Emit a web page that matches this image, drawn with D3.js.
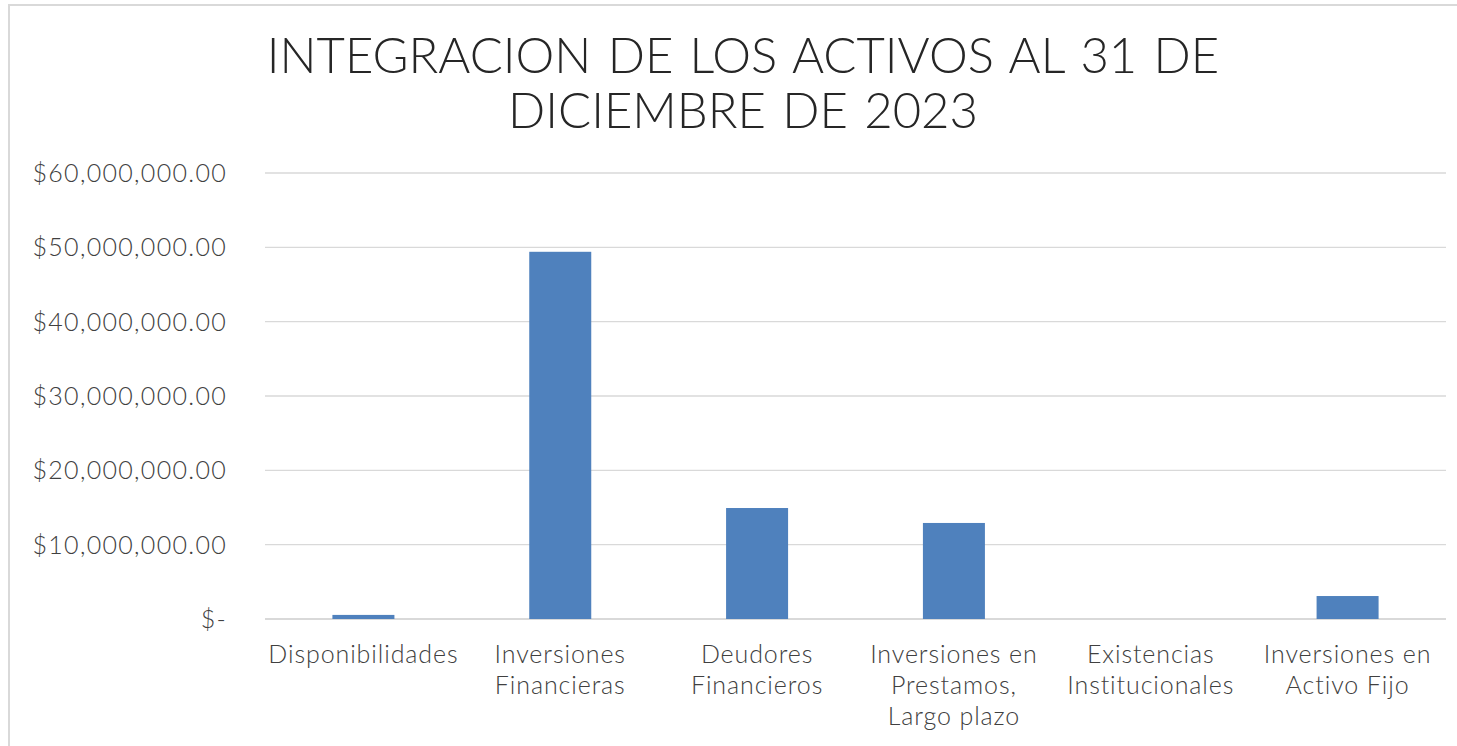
<!DOCTYPE html>
<html>
<head>
<meta charset="utf-8">
<script src="https://cdn.jsdelivr.net/npm/d3@7"></script>
<style>
  html, body { margin: 0; padding: 0; background: #fff; }
  svg { display: block; font-family: "Lato", "Open Sans", sans-serif; }
</style>
</head>
<body>
<div id="chart"></div>
<script>
// chart data
const categories = [
  ["Disponibilidades"],
  ["Inversiones", "Financieras"],
  ["Deudores", "Financieros"],
  ["Inversiones en", "Prestamos,", "Largo plazo"],
  ["Existencias", "Institucionales"],
  ["Inversiones en", "Activo Fijo"]
];
const values = [550000, 49400000, 14930000, 12920000, 0, 3090000];
const yTicks = [0, 10000000, 20000000, 30000000, 40000000, 50000000, 60000000];
const titleLines = ["INTEGRACION DE LOS ACTIVOS AL 31 DE", "DICIEMBRE DE 2023"];

const width = 1457, height = 746;
const plot = { left: 265, right: 1446, top: 173, bottom: 619 };

const svg = d3.select("#chart")
  .append("svg")
  .attr("width", width)
  .attr("height", height);

// outer frame (only top & left visible in the picture)
svg.append("line").attr("x1", 8).attr("x2", width).attr("y1", 5).attr("y2", 5)
  .style("stroke", "#d9d9d9").style("stroke-width", 2);
svg.append("line").attr("x1", 9).attr("x2", 9).attr("y1", 4).attr("y2", height)
  .style("stroke", "#d9d9d9").style("stroke-width", 2);

const keys = categories.map((d) => d.join(" "));

const x = d3.scaleBand()
  .domain(keys)
  .range([plot.left, plot.right])
  .paddingInner(0.685)
  .paddingOuter(0.3425);

const y = d3.scaleLinear()
  .domain([0, 60000000])
  .range([plot.bottom, plot.top]);

// gridlines
svg.append("g")
  .selectAll("line")
  .data(yTicks)
  .enter()
  .append("line")
  .attr("x1", plot.left)
  .attr("x2", plot.right)
  .attr("y1", (d) => y(d))
  .attr("y2", (d) => y(d))
  .style("stroke", "#d9d9d9")
  .style("stroke-width", (d) => (d === 0 ? 2 : 1.3));

// y labels
const fmt = d3.format(",.2f");
svg.append("g")
  .selectAll("text")
  .data(yTicks)
  .enter()
  .append("text")
  .attr("x", 227)
  .attr("y", (d) => y(d) + 9)
  .style("text-anchor", "end")
  .style("font-size", "25px")
  .style("font-weight", 300)
  .style("letter-spacing", "1.3px")
  .style("fill", "#404040")
  .text((d) => (d === 0 ? "$-" : "$" + fmt(d)));

// category labels
const cat = svg.append("g")
  .selectAll("text")
  .data(categories)
  .enter()
  .append("text")
  .attr("x", (d, i) => x(keys[i]) + x.bandwidth() / 2)
  .attr("y", 663)
  .style("text-anchor", "middle")
  .style("font-size", "25px")
  .style("font-weight", 300)
  .style("letter-spacing", "0.9px")
  .style("fill", "#404040");

cat.selectAll("tspan")
  .data((d) => d)
  .enter()
  .append("tspan")
  .attr("x", function () { return d3.select(this.parentNode).attr("x"); })
  .attr("dy", (d, i) => (i === 0 ? 0 : 31))
  .text((d) => d);

// bars
svg.append("g")
  .selectAll("rect")
  .data(values)
  .enter()
  .append("rect")
  .attr("x", (d, i) => x(keys[i]))
  .attr("width", x.bandwidth())
  .attr("y", (d) => y(d))
  .attr("height", (d) => y(0) - y(d))
  .style("fill", "#4f81bd");

// title
svg.append("g")
  .selectAll("text")
  .data(titleLines)
  .enter()
  .append("text")
  .attr("x", 743)
  .attr("y", (d, i) => 73 + i * 55)
  .style("text-anchor", "middle")
  .style("font-size", "49px")
  .style("font-weight", 300)
  .style("word-spacing", "3px")
  .style("fill", "#262626")
  .text((d) => d);
</script>
</body>
</html>
